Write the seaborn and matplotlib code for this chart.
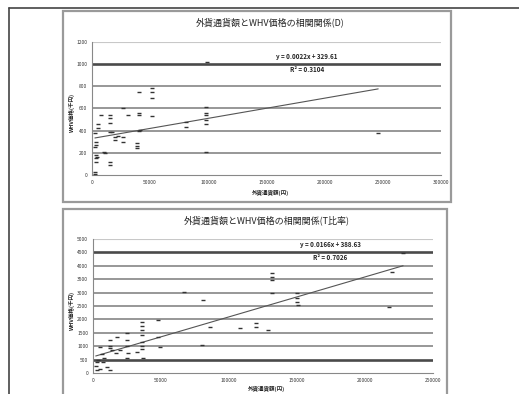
import numpy as np
import pandas as pd
import matplotlib
matplotlib.use("Agg")
import matplotlib.pyplot as plt
import seaborn as sns
from matplotlib.patches import Rectangle
from matplotlib.lines import Line2D

sns.set_theme(style="white")
plt.rcParams['font.family'] = ['Noto Sans CJK JP', 'DejaVu Sans']

# ---- data: top chart ----
top_title = "外貨通貨額とWHV価格の相関関係(D)"
top_x = [99000, 40000, 52000, 52000, 52000, 26500, 31000, 40000, 40000, 52000,
         15500, 15500, 15500, 98000, 98000, 98000, 98000, 98000, 81000, 81000,
         5000, 5000, 15500, 17500, 20000, 20000, 22000, 27000, 27000, 40000,
         41000, 38500, 38500, 38500, 3500, 3500, 3000, 10000, 11000, 3500,
         3500, 3500, 4000, 15500, 15500, 2500, 2500, 98000, 246000, 3000, 8000]
top_y = [1020, 750, 785, 750, 695, 605, 540, 560, 540, 530,
         540, 515, 470, 615, 560, 540, 500, 460, 480, 435,
         460, 420, 390, 385, 340, 320, 350, 340, 300, 400,
         405, 290, 260, 245, 300, 275, 250, 205, 200, 180,
         150, 120, 165, 120, 90, 30, 10, 210, 380, 380, 540]
top_xticks = [0, 50000, 100000, 150000, 200000, 250000, 300000]
top_yticks = [0, 200, 400, 600, 800, 1000, 1200]
top_eq = "y = 0.0022x + 329.61"
top_r2 = "R² = 0.3104"

# ---- data: bottom chart ----
bot_title = "外貨通貨額とWHV価格の相関関係(T比率)"
bot_x = [228000, 131600, 131600, 131600, 131600, 150000, 150000, 150000, 151000,
         81000, 220000, 36000, 36000, 36000, 36000, 36000, 36000, 36000, 37000,
         48000, 48000, 49000, 86000, 108000, 120000, 120000, 129000, 80000,
         25000, 25000, 25000, 26000, 25000, 12500, 12500, 12500, 14000, 18000,
         32000, 5000, 6500, 8000, 4000, 3000, 2000, 3000, 5000, 10000, 12500,
         7000, 20000, 17000, 67000, 218000]
bot_y = [4480, 3730, 3600, 3470, 2985, 2985, 2800, 2650, 2550,
         2720, 3770, 1900, 1750, 1600, 1400, 1150, 1000, 900, 560,
         1980, 1340, 970, 1720, 1680, 1870, 1720, 1600, 1045,
         1490, 1250, 990, 750, 560, 1230, 1000, 930, 850, 1340,
         780, 970, 720, 560, 500, 400, 260, 110, 150, 220, 100,
         400, 860, 730, 3020, 2460]
bot_xticks = [0, 50000, 100000, 150000, 200000, 250000]
bot_yticks = [0, 500, 1000, 1500, 2000, 2500, 3000, 3500, 4000, 4500, 5000]
bot_eq = "y = 0.0166x + 388.63"
bot_r2 = "R² = 0.7026"

x_label = "外貨通貨額(円)"
y_label = "WHV価格(千円)"

W, H = 519, 394
fig = plt.figure(figsize=(W / 100, H / 100), dpi=100)
fig.patch.set_facecolor("white")


def fx(px):
    return px / W


def fy(py):
    return 1 - py / H


# page frame
fig.add_artist(Line2D([fx(9), fx(519)], [fy(8), fy(8)], color="#444444", lw=1.2))
fig.add_artist(Line2D([fx(9), fx(9)], [fy(8), fy(394)], color="#444444", lw=1.2))

# chart boxes
for (l, t, r, b) in [(63, 11, 451, 202), (63, 209, 447, 400)]:
    fig.add_artist(Rectangle((fx(l), fy(b)), fx(r) - fx(l), fy(t) - fy(b),
                             fill=False, ec="#9a9a9a", lw=1.6))


def make_chart(rect_px, xs, ys, xticks, yticks, title, eq, r2, eq_pos, thick,
               title_y, xlabel_y):
    l, t, r, b = rect_px
    ax = fig.add_axes([fx(l), fy(b), fx(r) - fx(l), fy(t) - fy(b)])
    ax.set_facecolor("white")
    df = pd.DataFrame({"x": xs, "y": ys})
    ax.set_xlim(xticks[0], xticks[-1])
    ax.set_ylim(yticks[0], yticks[-1])
    for yv in yticks[1:]:
        lw = 1.9 if yv in thick else 1.1
        col = "#4a4a4a" if yv in thick else "#7a7a7a"
        if yv == yticks[-1]:
            lw, col = 0.8, "#c8c8c8"
        ax.axhline(yv, color=col, lw=lw, zorder=0)
    sns.scatterplot(data=df, x="x", y="y", ax=ax, marker="_", s=6,
                    color="#333333", linewidth=1.0, zorder=3, legend=False)
    sns.regplot(data=df, x="x", y="y", ax=ax, scatter=False, ci=None,
                line_kws={"color": "#555555", "lw": 0.8}, truncate=True)
    ax.set_xlim(xticks[0], xticks[-1])
    ax.set_ylim(yticks[0], yticks[-1])
    ax.set_xticks(xticks)
    ax.set_yticks(yticks)
    ax.set_xticklabels([str(v) for v in xticks], fontsize=3.5, color="#333333")
    ax.set_yticklabels([str(v) for v in yticks], fontsize=3.5, color="#333333")
    ax.tick_params(length=1.5, pad=2, width=0.5)
    ax.set_xlabel("")
    ax.set_ylabel("")
    for s in ["top", "right"]:
        ax.spines[s].set_visible(False)
    ax.spines["left"].set_color("#888888")
    ax.spines["bottom"].set_color("#888888")
    ax.spines["left"].set_linewidth(0.8)
    ax.spines["bottom"].set_linewidth(0.8)
    ax.grid(False)
    fig.text(fx((l + r) / 2 + 4), fy(title_y), title, ha="center", va="center",
             fontsize=6.5, color="#222222")
    fig.text(fx((l + r) / 2 + 4), fy(xlabel_y), x_label, ha="center", va="center",
             fontsize=4, color="#222222", fontweight="bold")
    fig.text(fx(72), fy((t + b) / 2 + 4), y_label, ha="center", va="center",
             rotation=90, fontsize=4, color="#222222", fontweight="bold")
    fig.text(fx(eq_pos[0]), fy(eq_pos[1]), eq, ha="center", va="center",
             fontsize=4.5, color="#222222", fontweight="bold")
    fig.text(fx(eq_pos[0]), fy(eq_pos[1] + 12), r2, ha="center", va="center",
             fontsize=4.5, color="#222222", fontweight="bold")
    return ax


make_chart((92, 42, 441, 175), top_x, top_y, top_xticks, top_yticks,
           top_title, top_eq, top_r2, (307, 57), [1000], 22, 193)
make_chart((93, 239, 433, 373), bot_x, bot_y, bot_xticks, bot_yticks,
           bot_title, bot_eq, bot_r2, (330, 245), [4500, 500], 220, 389)

fig.savefig("out.png", dpi=100, facecolor="white")
